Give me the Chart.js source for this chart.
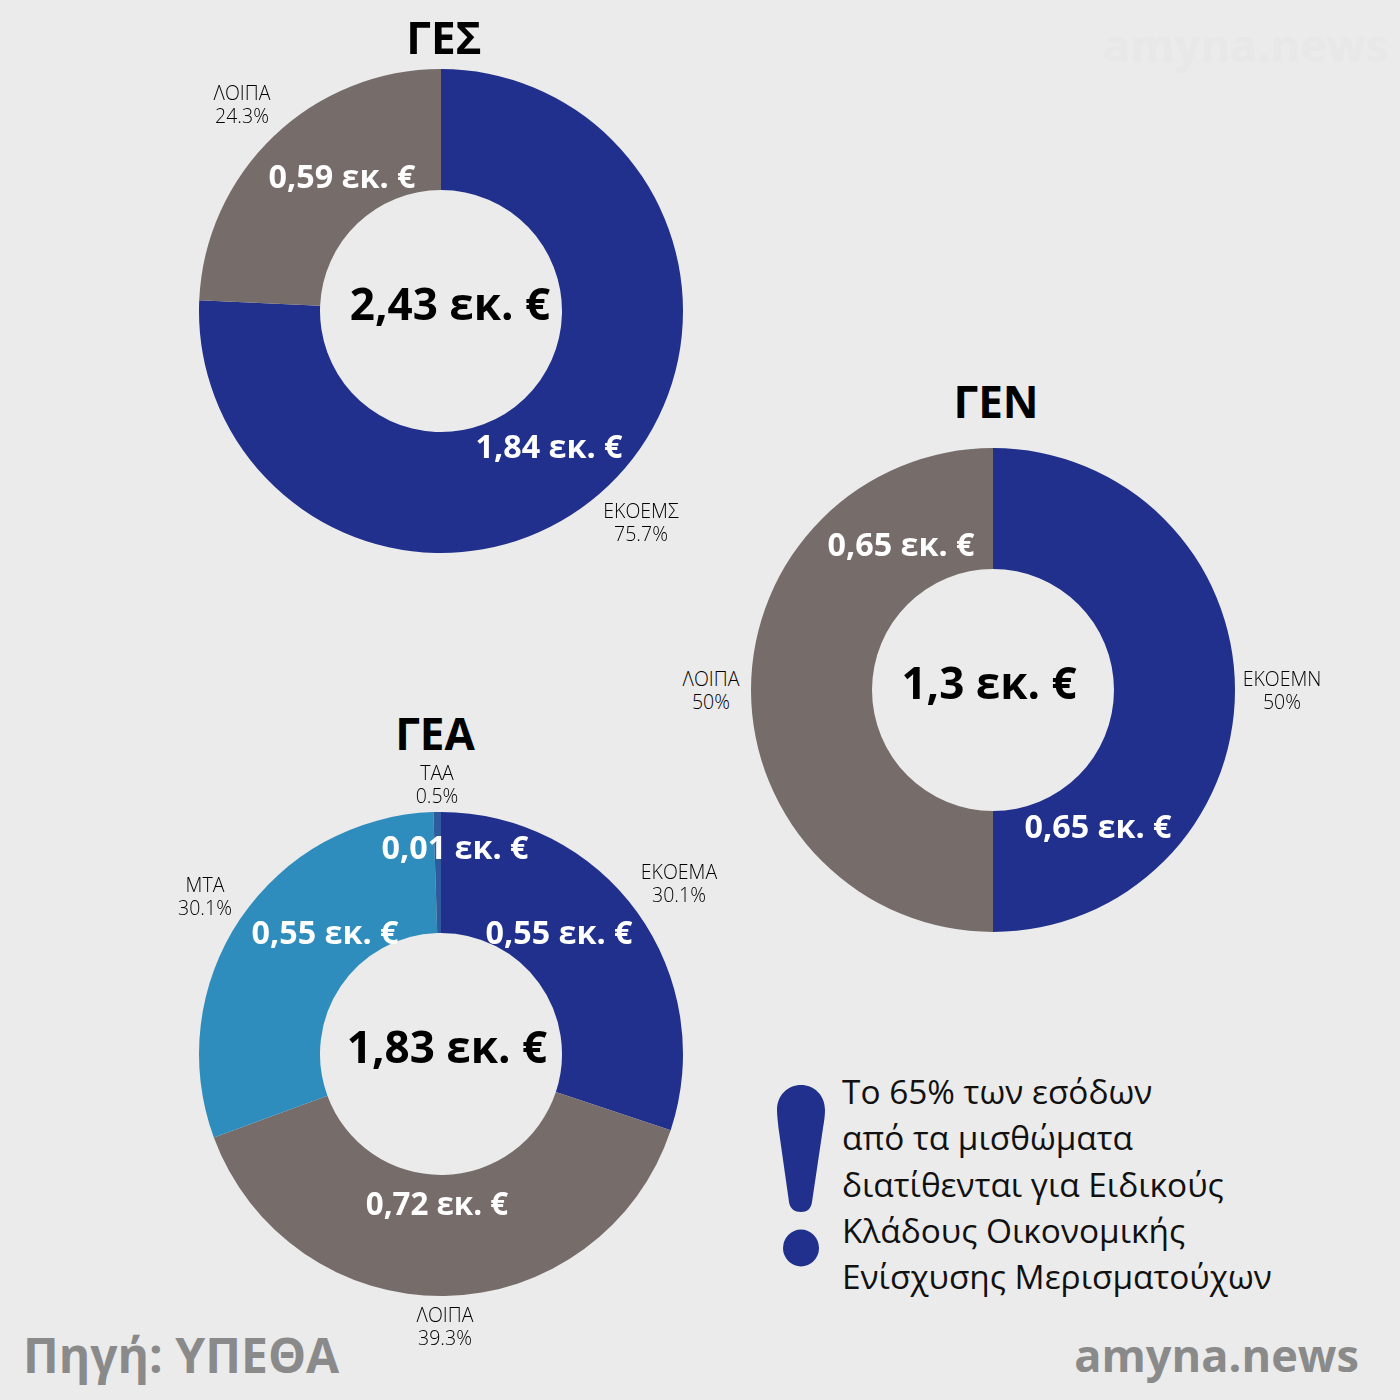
<!DOCTYPE html>
<html lang="el">
<head>
<meta charset="utf-8">
<title>ΓΕΣ ΓΕΝ ΓΕΑ</title>
<script src="https://cdn.jsdelivr.net/npm/chart.js@4/dist/chart.umd.min.js"></script>
<style>
	html, body { margin: 0; padding: 0; background: #ebebeb; }
	#page { position: relative; width: 1400px; height: 1400px; overflow: hidden; background: #ebebeb; font-family: "Open Sans", sans-serif; }
	#page canvas { position: absolute; }
	.t { position: absolute; transform: translate(-50%, -50%); white-space: nowrap; line-height: 1; }
	.title { font-size: 44px; font-weight: 700; color: #000; }
	.total { font-size: 44px; font-weight: 700; color: #000; }
	.amount { font-size: 32.300px; font-weight: 700; color: #fff; margin-top: -1px; }
	.small { font-size: 31.300px; margin-top: 0; }
	.tag { font-size: 19.500px; font-weight: 300; color: #000; margin-top: 1px; }
	.note { position: absolute; left: 842px; font-size: 33.400px; font-weight: 400; line-height: 1; color: #111; white-space: nowrap; transform: translateY(-50%); }
	.source { position: absolute; font-size: 48px; font-weight: 700; color: #8a8a8a; white-space: nowrap; line-height: 1; }
	.site { font-size: 45.200px; }
	.mark { position: absolute; left: 770px; top: 1080px; }
</style>
</head>
<body>
<div id="page"></div>
<script>
var gesLabels = ['ΕΚΟΕΜΣ', 'ΛΟΙΠΑ'];
var gesValues = [75.7, 24.3];
var gesShares = ['75.7%', '24.3%'];
var gesAmounts = ['1,84 εκ. €', '0,59 εκ. €'];

var genLabels = ['ΕΚΟΕΜΝ', 'ΛΟΙΠΑ'];
var genValues = [50, 50];
var genShares = ['50%', '50%'];
var genAmounts = ['0,65 εκ. €', '0,65 εκ. €'];

var geaLabels = ['ΕΚΟΕΜΑ', 'ΛΟΙΠΑ', 'ΜΤΑ', 'ΤΑΑ'];
var geaValues = [30.1, 39.3, 30.1, 0.5];
var geaShares = ['30.1%', '39.3%', '30.1%', '0.5%'];
var geaAmounts = ['0,55 εκ. €', '0,72 εκ. €', '0,55 εκ. €', '0,01 εκ. €'];

var noteLines = ['Το 65% των εσόδων', 'από τα μισθώματα', 'διατίθενται για Ειδικούς', 'Κλάδους Οικονομικής', 'Ενίσχυσης Μερισματούχων'];

var page = document.getElementById('page');

function addText(cls, text, x, y) {
	var el = document.createElement('div');
	el.className = cls;
	el.textContent = text;
	el.style.left = x + 'px';
	el.style.top = y + 'px';
	page.appendChild(el);
	return el;
}

function addDonut(cx, cy, labels, values, colors) {
	var canvas = document.createElement('canvas');
	canvas.width = 500;
	canvas.height = 500;
	canvas.style.left = (cx - 250) + 'px';
	canvas.style.top = (cy - 250) + 'px';
	canvas.style.width = '500px';
	canvas.style.height = '500px';
	page.appendChild(canvas);
	new Chart(canvas, {
		type: 'doughnut',
		data: {
			labels: labels,
			datasets: [{ data: values, backgroundColor: colors, borderWidth: 0 }]
		},
		options: {
			responsive: false,
			animation: false,
			cutout: '50%',
			layout: { padding: 8 },
			plugins: { legend: { display: false }, tooltip: { enabled: false } }
		}
	});
}

// tag = name on one line, share under it
function addTag(name, share, x, y) {
	addText('t tag', name, x, y);
	addText('t tag', share, x, y + 23);
}

var blue = '#20308c', grey = '#766d6b', sky = '#2e8dbd', steel = '#2f5a9b';

addDonut(441, 311, gesLabels, gesValues, [blue, grey]);
addDonut(993, 690, genLabels, genValues, [blue, grey]);
addDonut(441, 1054, geaLabels, geaValues, [blue, grey, sky, steel]);

// ΓΕΣ
addText('t title', 'ΓΕΣ', 444, 37);
addText('t total', '2,43 εκ. €', 450, 302.500);
addText('t amount', gesAmounts[0], 549, 446);
addText('t amount', gesAmounts[1], 342, 176);
addTag(gesLabels[0], gesShares[0], 641, 509.500);
addTag(gesLabels[1], gesShares[1], 242, 92);

// ΓΕΝ
addText('t title', 'ΓΕΝ', 996, 401);
addText('t total', '1,3 εκ. €', 989, 682);
addText('t amount', genAmounts[0], 1098, 826);
addText('t amount', genAmounts[1], 901, 544);
addTag(genLabels[0], genShares[0], 1282, 678);
addTag(genLabels[1], genShares[1], 711, 678);

// ΓΕΑ
addText('t title', 'ΓΕΑ', 435, 733);
addText('t total', '1,83 εκ. €', 447, 1046);
addText('t amount', geaAmounts[0], 559, 932);
addText('t amount small', geaAmounts[1], 437, 1204);
addText('t amount', geaAmounts[2], 325, 932);
addText('t amount', geaAmounts[3], 455, 847);
addTag(geaLabels[0], geaShares[0], 679, 870.500);
addTag(geaLabels[1], geaShares[1], 445, 1314);
addTag(geaLabels[2], geaShares[2], 205, 883.500);
addTag(geaLabels[3], geaShares[3], 437, 771.500);

// note
noteLines.forEach(function (line, i) {
	addText('note', line, 842, 1092 + i * 46.25);
});

page.insertAdjacentHTML('beforeend',
	'<svg class="mark" width="64" height="192" viewBox="0 0 64 192">' +
	'<path d="M31 5 C18 5 7 15 7 30 C7 36 8 42 8.500 48 L19 122 C20 129 25 132 31 132 C37 132 41 129 42 122 L53 48 C54 42 55 36 55 30 C55 15 44 5 31 5 Z" fill="#20308c"/>' +
	'<ellipse cx="31" cy="168" rx="18" ry="18.500" fill="#20308c"/></svg>');

addText('source', 'Πηγή: ΥΠΕΘΑ', 23, 1331);
var site = addText('source site', 'amyna.news', 0, 1332);
site.style.left = 'auto';
site.style.right = '41px';
var faint = addText('source site', 'amyna.news', 0, 22);
faint.style.left = 'auto';
faint.style.right = '12px';
faint.style.color = '#e8e8e8';
</script>
</body>
</html>
